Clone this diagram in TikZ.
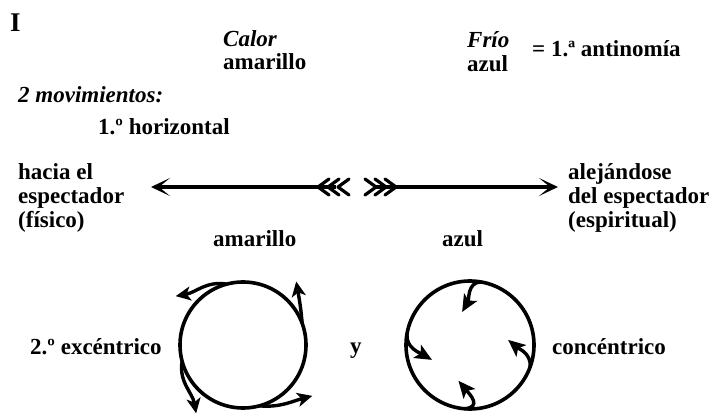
\documentclass[tikz,border=0pt]{standalone}
\usepackage{fontspec}
\setmainfont{Liberation Serif}
\usetikzlibrary{arrows.meta}

\tikzset{
  lbl/.style={anchor=base west, inner sep=0pt, align=left,
    font=\fontsize{23}{24}\selectfont\bfseries},
  ring/.style={draw, circle, line width=3.6pt, minimum size=#1, inner sep=0pt, outer sep=0pt},
  swirl/.style={line width=3.4pt, -{Stealth[length=15pt,width=14pt,inset=4pt]}},
  inswirl/.style={swirl, -{Stealth[length=17pt,width=15pt,inset=4pt]}},
  shaft/.style={line width=3.4pt, -{Stealth[length=19pt,width=18pt,inset=11pt]}},
  fletch/.style={line width=3.2pt, line cap=round, line join=round},
}

\begin{document}
\begin{tikzpicture}[x=1pt,y=1pt]
  \useasboundingbox (0,0) rectangle (709,-419);

  \node[lbl, font=\fontsize{27}{27}\selectfont\bfseries] (part) at (10,-32) {I};
  \node[lbl, font=\fontsize{23}{23}\selectfont\bfseries] (calor) at (223,-70) {\itshape Calor\\amarillo};
  \node[lbl] (frio) at (467,-72) {\itshape Frío\\azul};
  \node[lbl] (antin) at (532,-57) {= 1.ª antinomía};
  \node[lbl] (mov) at (18,-103) {\itshape 2 movimientos:};
  \node[lbl] (horiz) at (98,-135) {1.º horizontal};

  \node[lbl] (hacia) at (18,-228) {hacia el\\espectador\\(físico)};
  \node[lbl] (alej) at (568,-228) {alejándose\\del espectador\\(espiritual)};
  \node[lbl] (amar) at (213,-247) {amarillo};
  \node[lbl] (azul) at (442,-247) {azul};

  \coordinate (ltip) at (151,-187);
  \coordinate (lend) at (347,-187);
  \coordinate (rstart) at (365,-187);
  \coordinate (rtip) at (558,-187);
  \draw[shaft] ([xshift=-11pt]lend) -- (ltip);
  \foreach \d in {9,19,29}
    \draw[fletch] ([shift={({-\d+11},8)}]lend) -- ([xshift=-\d pt]lend) -- ([shift={({-\d+11},-8)}]lend);
  \draw[shaft] ([xshift=11pt]rstart) -- (rtip);
  \foreach \d in {0,10,20}
    \draw[fletch] ([shift={(\d,8)}]rstart) -- ([xshift={\d+11}]rstart) -- ([shift={(\d,-8)}]rstart);

  \node[lbl] (exctxt) at (30,-355) {2.º excéntrico};
  \node[ring=126pt] (exc) at (243,-345) {};
  \node[lbl] (y) at (350,-353) {y};
  \node[ring=128pt] (conc) at (470,-345) {};
  \node[lbl] (conctxt) at (552,-355) {concéntrico};

  \draw[swirl] (exc.105) to[out=170,in=10] ++(-51,-12);
  \draw[swirl] (exc.20) to[out=95,in=-80] ++(-6,42);
  \draw[swirl] (exc.-75) to[out=-5,in=195] ++(53,10);
  \draw[swirl] (exc.195) to[out=-100,in=100] ++(14,-52);

  \draw[inswirl] (conc.80) to[out=180,in=60] ++(-19,-30);
  \draw[inswirl] (conc.170) to[out=265,in=150] ++(25,-26);
  \draw[inswirl] (conc.265) to[out=5,in=-50,looseness=1.6] ++(-6,28);
  \draw[inswirl] (conc.-20) to[out=85,in=-40] ++(-22,27);
\end{tikzpicture}
\end{document}
